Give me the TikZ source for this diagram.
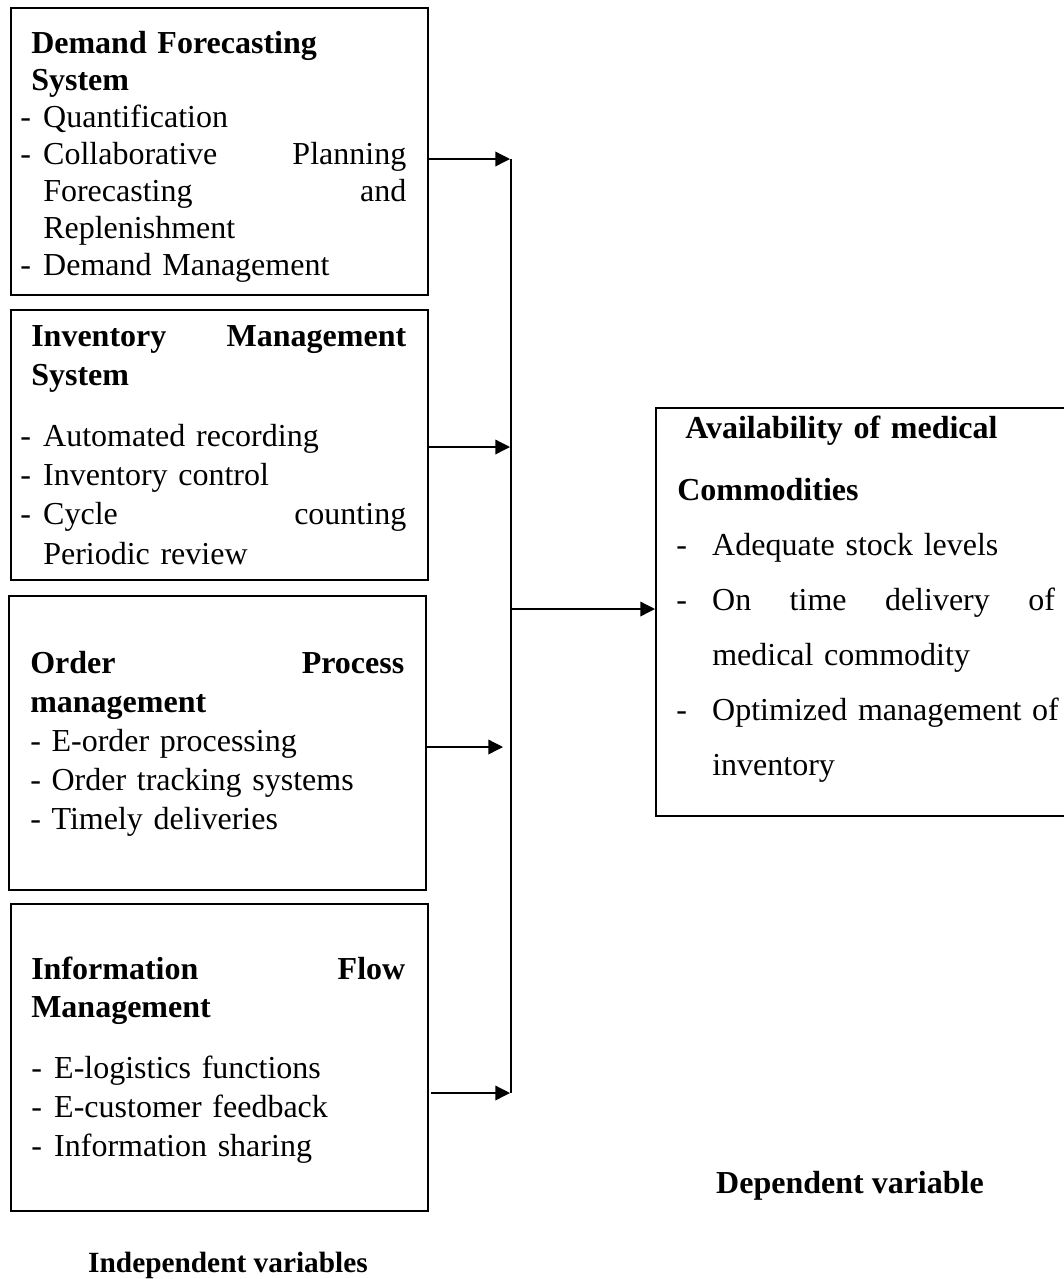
\documentclass[tikz,border=0pt]{standalone}
\usepackage{fontspec}
\setmainfont{Liberation Serif}
\usetikzlibrary{arrows.meta,positioning}
\setlength{\parindent}{0pt}

% list lines: dash, then text
\newcommand{\itm}[1]{\makebox[17.25pt][l]{-}#1}
\newcommand{\ritm}[1]{\makebox[27pt][l]{-}#1}
\newcommand{\topstrut}{\rule{0pt}{18pt}}

\begin{document}
\begin{tikzpicture}[x=0.75pt,y=-0.75pt,
		panel/.style={draw, line width=1.5pt, inner sep=0pt, anchor=north west},
		txt/.style={inner sep=0pt, anchor=north west, align=left},
		link/.style={line width=1pt, -{Triangle[length=11pt,width=11pt]}},
		bus/.style={line width=1pt},
		caption/.style={inner sep=0pt, anchor=base, font=\fontsize{24}{28}\selectfont\bfseries}]
		\useasboundingbox (0,0) rectangle (1064,1279);

		% independent variables
		\node[panel, minimum width=312.75pt, minimum height=215.25pt] (dfs) at (10,7) {};
		\node[panel, minimum width=312.75pt, minimum height=202.5pt] (ims) at (10,309) {};
		\node[panel, minimum width=312.75pt, minimum height=220.5pt] (opm) at (8,595) {};
		\node[panel, minimum width=312.75pt, minimum height=230.25pt] (ifm) at (10,903) {};

		\node[txt, text width=289.5pt, font=\fontsize{24}{27.75}\selectfont] (dfs txt) at (20,29) {%
			\topstrut\hspace*{8.25pt}\textbf{Demand Forecasting}\\
			\hspace*{8.25pt}\textbf{System}\\
			\itm{Quantification}\\
			\itm{Collaborative\hfill Planning}\\
			\hspace*{17.25pt}Forecasting\hfill and\\
			\hspace*{17.25pt}Replenishment\\
			\itm{Demand Management}};
		\node[txt, text width=289.5pt, font=\fontsize{24}{29.4}\selectfont] (ims txt) at (20,322) {%
			\topstrut\hspace*{8.25pt}\textbf{Inventory\hfill Management}\\
			\hspace*{8.25pt}\textbf{System}\\[16.35pt]
			\itm{Automated recording}\\
			\itm{Inventory control}\\
			\itm{Cycle\hfill counting}\\
			\hspace*{17.25pt}Periodic review};
		\node[txt, text width=280.5pt, font=\fontsize{24}{29.25}\selectfont] (opm txt) at (30,649) {%
			\topstrut\textbf{Order\hfill Process}\\
			\textbf{management}\\
			- E-order processing\\
			- Order tracking systems\\
			- Timely deliveries};
		\node[txt, text width=280.5pt, font=\fontsize{24}{29}\selectfont] (ifm txt) at (31,955) {%
			\topstrut\textbf{Information\hfill Flow}\\
			\textbf{Management}\\[16.7pt]
			\itm{E-logistics functions}\\
			\itm{E-customer feedback}\\
			\itm{Information sharing}};

		% dependent variable
		\node[panel, minimum width=315pt, minimum height=306pt] (avail) at (655,407) {};
		\node[txt, text width=284pt, font=\fontsize{24}{41.25}\selectfont] (avail txt) at (676,414) {%
			\topstrut\hspace*{6.75pt}\textbf{Availability of medical}\\[5.25pt]
			\hspace*{0.75pt}\textbf{Commodities}\\
			\ritm{Adequate stock levels}\\
			\ritm{On\hfill time\hfill delivery\hfill of}\\
			\hspace*{27pt}medical commodity\\
			\ritm{\mbox{Optimized management of}}\\
			\hspace*{27pt}inventory};

		% connectors
		\coordinate (in1) at (510,159);
		\coordinate (in2) at (510,447);
		\coordinate (in3) at (503,747);
		\coordinate (in4) at (510,1093);
		\coordinate (bus top) at (511,159);
		\coordinate (bus mid) at (511,609);
		\coordinate (bus bot) at (511,1093);
		\draw[link] (dfs.east |- in1) -- (in1);
		\draw[link] (ims.east |- in2) -- (in2);
		\draw[link] ([xshift=-1.5pt]opm.east |- in3) -- (in3);
		\draw[link] ([xshift=1.5pt]ifm.east |- in4) -- (in4);
		\draw[bus] (bus top) -- (bus bot);
		\draw[link] (bus mid) -- (avail.west |- bus mid);

		% captions
		\node[caption, font=\fontsize{22}{26}\selectfont\bfseries] (indep) at (228,1272) {Independent variables};
		\node[caption] (dep) at (850,1193) {Dependent variable};
	\end{tikzpicture}
\end{document}
